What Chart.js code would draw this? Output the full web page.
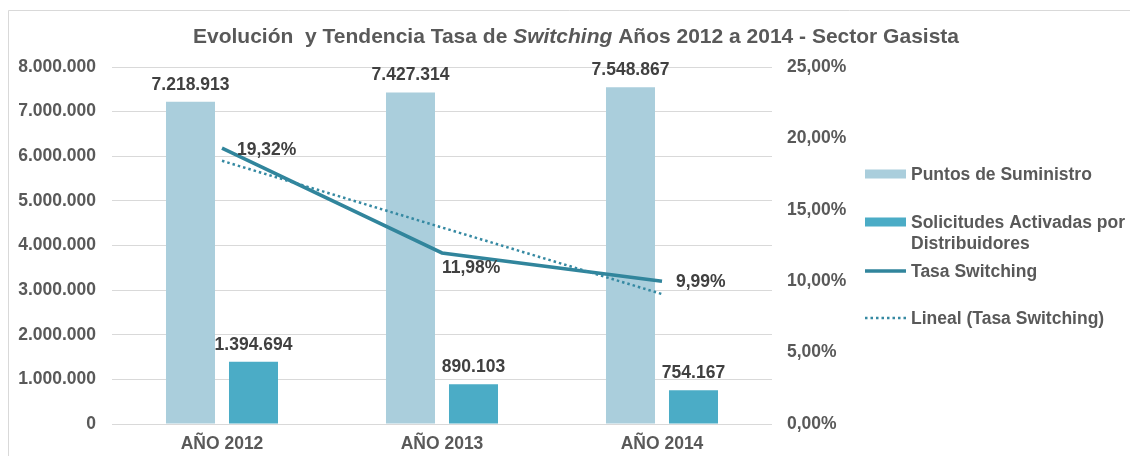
<!DOCTYPE html>
<html><head><meta charset="utf-8">
<script src="https://cdn.jsdelivr.net/npm/chart.js@4.4.1/dist/chart.umd.min.js"></script>
<style>html,body{margin:0;padding:0;background:#fff;overflow:hidden}#wrap{position:relative;width:1130px;height:456px}</style>
</head><body><div id="wrap"><canvas id="c" width="1130" height="456"></canvas></div>
<script>
const categories = ['AÑO 2012', 'AÑO 2013', 'AÑO 2014'];
const puntosSuministro = [7218913, 7427314, 7548867];
const solicitudesActivadas = [1394694, 890103, 754167];
const tasaSwitching = [19.32, 11.98, 9.99];
const linealTasaSwitching = [18.43, 13.76, 9.10];
const leftTickLabels = ['0', '1.000.000', '2.000.000', '3.000.000', '4.000.000', '5.000.000', '6.000.000', '7.000.000', '8.000.000'];
const rightTickLabels = ['0,00%', '5,00%', '10,00%', '15,00%', '20,00%', '25,00%'];
const seriesLabels = ['Puntos de Suministro', 'Solicitudes Activadas por Distribuidores', 'Tasa Switching', 'Lineal (Tasa Switching)'];
const titleParts = [['Evolución  y Tendencia Tasa de ', false], ['Switching', true], [' Años 2012 a 2014 - Sector Gasista', false]];

const FONT = "'Liberation Sans', Arial, Helvetica, sans-serif";
const FS = 17.5;
const AXIS_COLOR = '#595959';
const LABEL_COLOR = '#404040';
Chart.defaults.font.family = FONT;
Chart.defaults.font.weight = 'bold';
Chart.defaults.font.size = FS;
Chart.defaults.color = AXIS_COLOR;

function fmtThousands(n) { return String(n).replace(/\B(?=(\d{3})+(?!\d))/g, '.'); }
function fmtPct(v) { return v.toFixed(2).replace('.', ',') + '%'; }

const framePlugin = {
  id: 'frame',
  beforeDraw(chart) {
    const c = chart.ctx;
    c.save();
    c.fillStyle = '#fff';
    c.fillRect(0, 0, chart.width, chart.height);
    c.strokeStyle = '#D9D9D9';
    c.lineWidth = 1;
    c.beginPath();
    c.moveTo(8.5, chart.height);
    c.lineTo(8.5, 10.5);
    c.lineTo(chart.width, 10.5);
    c.stroke();
    c.restore();
  }
};

const titlePlugin = {
  id: 'mixedTitle',
  afterDraw(chart) {
    const c = chart.ctx;
    c.save();
    c.fillStyle = AXIS_COLOR;
    c.textBaseline = 'alphabetic';
    const size = 21;
    let total = 0;
    const widths = titleParts.map(([t, it]) => {
      c.font = (it ? 'italic ' : '') + 'bold ' + size + 'px ' + FONT;
      const w = c.measureText(t).width; total += w; return w;
    });
    let x = 576 - total / 2;
    titleParts.forEach(([t, it], i) => {
      c.font = (it ? 'italic ' : '') + 'bold ' + size + 'px ' + FONT;
      c.textAlign = 'left';
      c.fillText(t, x, 43);
      x += widths[i];
    });
    c.restore();
  }
};

const dataLabelPlugin = {
  id: 'dataLabels',
  afterDatasetsDraw(chart) {
    const c = chart.ctx;
    c.save();
    c.font = 'bold ' + FS + 'px ' + FONT;
    c.fillStyle = LABEL_COLOR;
    c.textBaseline = 'middle';
    [0, 1].forEach(di => {
      const meta = chart.getDatasetMeta(di);
      meta.data.forEach((el, i) => {
        c.textAlign = 'center';
        c.fillText(fmtThousands(chart.data.datasets[di].data[i]), el.x, el.y - 17);
      });
    });
    const lineOffsets = [[15, 2], [0, 15], [14, 1]];
    const meta = chart.getDatasetMeta(2);
    meta.data.forEach((el, i) => {
      c.textAlign = 'left';
      c.fillText(fmtPct(chart.data.datasets[2].data[i]), el.x + lineOffsets[i][0], el.y + lineOffsets[i][1]);
    });
    c.restore();
  }
};

const legendPlugin = {
  id: 'sideLegend',
  afterDraw(chart) {
    const c = chart.ctx;
    const ds = chart.data.datasets;
    const ys = [174, 222, 271, 318];
    const x0 = 865, x1 = 906, tx = 911;
    c.save();
    c.font = 'bold ' + FS + 'px ' + FONT;
    c.textBaseline = 'middle';
    c.textAlign = 'left';
    ds.forEach((d, i) => {
      const y = ys[i];
      if (d.type === 'bar') {
        c.fillStyle = d.backgroundColor;
        c.fillRect(x0, y - 4.5, x1 - x0, 9);
      } else {
        c.strokeStyle = d.borderColor;
        c.lineWidth = d.borderWidth;
        c.setLineDash(d.borderDash || []);
        c.beginPath();
        c.moveTo(x0, y); c.lineTo(x1, y); c.stroke();
        c.setLineDash([]);
      }
      c.fillStyle = AXIS_COLOR;
      const maxW = chart.width - tx - 1;
      const words = d.label.split(' ');
      const lines = [];
      let cur = '';
      words.forEach(w => {
        const test = cur ? cur + ' ' + w : w;
        if (c.measureText(test).width > maxW && cur) { lines.push(cur); cur = w; } else cur = test;
      });
      lines.push(cur);
      lines.forEach((ln, k) => c.fillText(ln, tx, y + 1 + k * 21));
    });
    c.restore();
  }
};

new Chart(document.getElementById('c'), {
  type: 'bar',
  data: {
    labels: categories,
    datasets: [
      { type: 'bar', label: seriesLabels[0], data: puntosSuministro, backgroundColor: '#AACEDC', yAxisID: 'y', order: 2, categoryPercentage: 0.5727, barPercentage: 0.778 },
      { type: 'bar', label: seriesLabels[1], data: solicitudesActivadas, backgroundColor: '#4BACC6', yAxisID: 'y', order: 2, categoryPercentage: 0.5727, barPercentage: 0.778 },
      { type: 'line', label: seriesLabels[2], data: tasaSwitching, borderColor: '#31859C', borderWidth: 3.5, yAxisID: 'y1', order: 1, pointRadius: 0, tension: 0, fill: false },
      { type: 'line', label: seriesLabels[3], data: linealTasaSwitching, borderColor: '#3589A2', borderWidth: 2.5, borderDash: [2.5, 3], yAxisID: 'y1', order: 0, pointRadius: 0, tension: 0, fill: false }
    ]
  },
  options: {
    responsive: false,
    animation: false,
    devicePixelRatio: 1,
    layout: { padding: { top: 67, left: 0, right: 0, bottom: 0 } },
    plugins: { legend: { display: false }, title: { display: false }, tooltip: { enabled: false } },
    scales: {
      x: {
        grid: { display: false, drawTicks: false },
        border: { display: false },
        ticks: { padding: 10, color: AXIS_COLOR },
        afterFit(s) { s.height = 32; }
      },
      y: {
        position: 'left', min: 0, max: 8000000,
        ticks: { stepSize: 1000000, padding: 16, color: AXIS_COLOR, callback: v => leftTickLabels[Math.round(v / 1000000)] },
        grid: { color: '#D9D9D9', lineWidth: 1, drawTicks: false },
        border: { display: false },
        afterFit(s) { s.width = 112; }
      },
      y1: {
        position: 'right', min: 0, max: 25,
        ticks: { stepSize: 5, padding: 15, color: AXIS_COLOR, callback: v => rightTickLabels[Math.round(v / 5)] },
        grid: { display: false, drawTicks: false },
        border: { display: false },
        afterFit(s) { s.width = 358; }
      }
    }
  },
  plugins: [framePlugin, titlePlugin, dataLabelPlugin, legendPlugin]
});
</script></body></html>
